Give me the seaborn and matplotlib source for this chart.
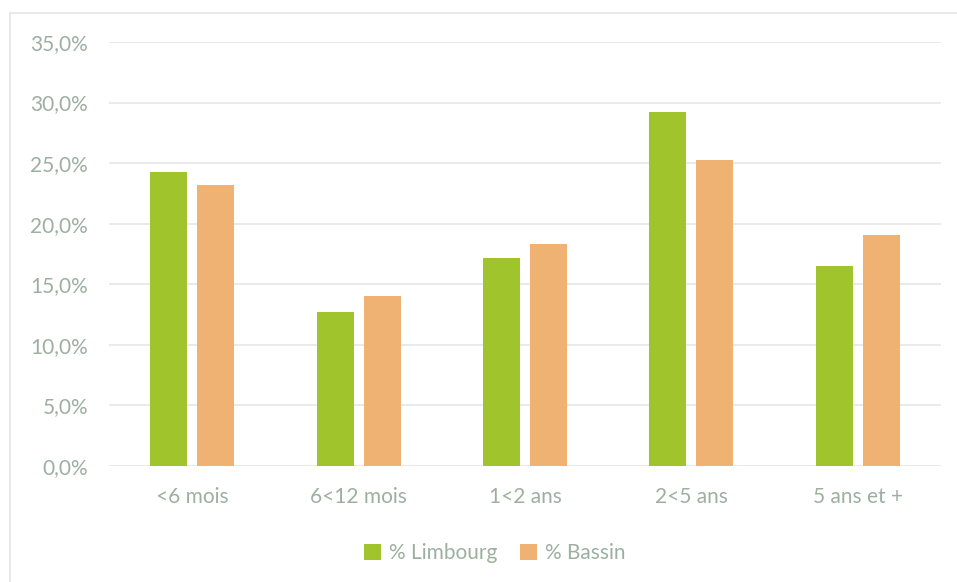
import numpy as np
import pandas as pd
import matplotlib
matplotlib.use("Agg")
import matplotlib.pyplot as plt
import seaborn as sns
from matplotlib.ticker import FuncFormatter, MultipleLocator
from matplotlib.patches import Rectangle

categories = ["<6 mois", "6<12 mois", "1<2 ans", "2<5 ans", "5 ans et +"]
limbourg = [24.3, 12.7, 17.2, 29.2, 16.5]
bassin = [23.2, 14.0, 18.3, 25.3, 19.1]
series_names = ["% Limbourg", "% Bassin"]
colors = ["#A0C42C", "#F0B273"]
text_col = "#9DB0A0"

df = pd.DataFrame({
    "cat": categories * 2,
    "val": limbourg + bassin,
    "serie": [series_names[0]] * len(categories) + [series_names[1]] * len(categories),
})

sns.set_theme(style="white")
plt.rcParams["font.family"] = ["Lato", "DejaVu Sans"]

fig = plt.figure(figsize=(9.57, 5.82), dpi=100)
ax = fig.add_axes([109 / 957, 116 / 582, 832 / 957, 424 / 582])

sns.barplot(data=df, x="cat", y="val", hue="serie", palette=colors,
            width=0.565, gap=0.21, linewidth=0, saturation=1, ax=ax)

ax.set_ylim(0, 35)
ax.set_xlim(-0.5, 4.5)
ax.yaxis.set_major_locator(MultipleLocator(5))
ax.yaxis.set_major_formatter(FuncFormatter(lambda v, p: f"{v:.1f}%".replace(".", ",")))
ax.grid(axis="y", color="#E6E9E8", linewidth=1.3)
ax.set_axisbelow(True)
for s in ax.spines.values():
    s.set_visible(False)
ax.set_xlabel("")
ax.set_ylabel("")
ax.tick_params(axis="y", colors=text_col, labelsize=15, pad=15, length=0)
ax.tick_params(axis="x", colors=text_col, labelsize=15, pad=15, length=0)

# outer chart border
fig.patches.append(Rectangle((10 / 957, -0.01), 1.0, (582 - 13) / 582 + 0.01,
                             transform=fig.transFigure, fill=False,
                             edgecolor="#E3E6E5", linewidth=1.2))

ax.legend(loc="center", bbox_to_anchor=(0.464, -0.205), ncol=2, frameon=False,
          fontsize=15, labelcolor=text_col, handlelength=0.8, handleheight=0.8,
          handletextpad=0.4, columnspacing=1.1)

fig.savefig("out.png", dpi=100)
